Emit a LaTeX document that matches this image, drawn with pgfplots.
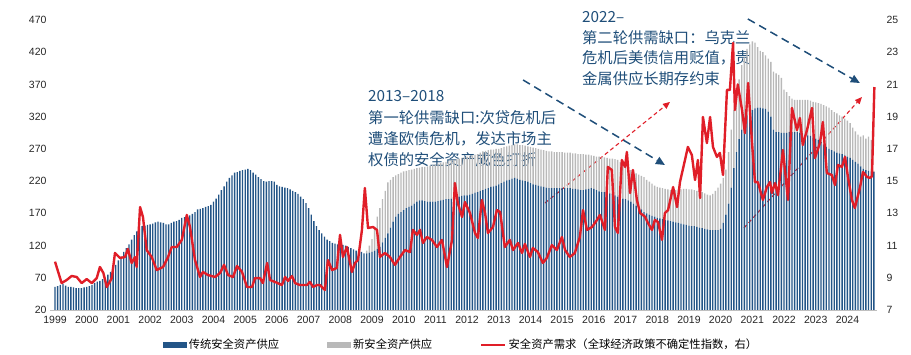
\documentclass[border=0pt]{standalone}
\usepackage{pgfplots}
\pgfplotsset{compat=1.18}
\usepackage{pgfplotstable}
\usepackage{fontspec}
\setmainfont{Liberation Sans}
\newfontfamily\cjk{Noto Sans CJK SC}
\usetikzlibrary{arrows.meta}
\definecolor{tradblue}{RGB}{35,85,135}
\definecolor{legblue}{RGB}{31,78,121}
\definecolor{newgrey}{RGB}{185,185,185}
\definecolor{demred}{RGB}{224,30,40}
\definecolor{annot}{RGB}{31,78,121}
\pgfplotsset{
  barlegend/.style={legend image code/.code={\fill[##1] (0pt,-3pt) rectangle (24pt,3pt);}},
  linelegend/.style={legend image code/.code={\draw[##1] (0pt,0pt) -- (24pt,0pt);}},
}
\pgfplotstableread[row sep=\\]{
i trad total\\
0 56 56\\ 1 57 57\\ 2 59 59\\ 3 60 60\\ 4 58 58\\ 5 56 56\\ 6 56 56\\ 7 55 55\\ 8 54 54\\ 9 54 54\\ 10 54 54\\ 11 55 55\\
12 56 56\\ 13 57 57\\ 14 59 59\\ 15 62 62\\ 16 64 64\\ 17 65 65\\ 18 68 68\\ 19 70 70\\ 20 75 75\\ 21 79 79\\ 22 85 85\\ 23 90 90\\
24 97 97\\ 25 103 103\\ 26 110 110\\ 27 116 116\\ 28 122 122\\ 29 129 129\\ 30 136 136\\ 31 142 142\\ 32 146 146\\ 33 150 150\\ 34 151 151\\ 35 152 152\\
36 153 153\\ 37 154 154\\ 38 156 156\\ 39 157 157\\ 40 156 156\\ 41 155 155\\ 42 153 153\\ 43 153 153\\ 44 155 155\\ 45 157 157\\ 46 158 158\\ 47 160 160\\
48 163 163\\ 49 164 164\\ 50 165 165\\ 51 167 167\\ 52 169 169\\ 53 172 172\\ 54 176 176\\ 55 177 177\\ 56 178 178\\ 57 180 180\\ 58 181 181\\ 59 183 183\\
60 188 188\\ 61 193 193\\ 62 199 199\\ 63 206 206\\ 64 212 212\\ 65 219 219\\ 66 225 225\\ 67 229 229\\ 68 233 233\\ 69 234 234\\ 70 236 236\\ 71 237 237\\
72 238 238\\ 73 239 239\\ 74 237 237\\ 75 233 233\\ 76 230 230\\ 77 226 226\\ 78 223 223\\ 79 220 220\\ 80 219 219\\ 81 220 220\\ 82 220 220\\ 83 219 219\\
84 214 214\\ 85 212 212\\ 86 211 211\\ 87 210 210\\ 88 209 209\\ 89 207 207\\ 90 205 205\\ 91 203 203\\ 92 200 200\\ 93 196 196\\ 94 192 192\\ 95 186 186\\
96 178 178\\ 97 168 168\\ 98 158 158\\ 99 150 150\\ 100 144 144\\ 101 139 139\\ 102 134 134\\ 103 129 129\\ 104 127 127\\ 105 124 124\\ 106 123 123\\ 107 122 122\\
108 122 122\\ 109 121 121\\ 110 120 120\\ 111 118 118\\ 112 116 116\\ 113 114 114\\ 114 112 112\\ 115 111 111\\ 116 110 110\\ 117 108 108\\ 118 108 112\\ 119 109 120\\
120 110 130\\ 121 112 148\\ 122 115 165\\ 123 118 178\\ 124 125 192\\ 125 132 205\\ 126 139 218\\ 127 148 222\\ 128 157 226\\ 129 165 229\\ 130 169 231\\ 131 172 233\\
132 175 235\\ 133 178 236\\ 134 180 237\\ 135 182 238\\ 136 185 239\\ 137 188 240\\ 138 190 241\\ 139 190 242\\ 140 189 242\\ 141 188 243\\ 142 188 244\\ 143 188 245\\
144 188 246\\ 145 189 247\\ 146 190 248\\ 147 191 249\\ 148 192 250\\ 149 192 251\\ 150 193 252\\ 151 194 253\\ 152 195 254\\ 153 196 255\\ 154 197 256\\ 155 198 257\\
156 198 258\\ 157 199 259\\ 158 200 260\\ 159 202 261\\ 160 203 262\\ 161 205 264\\ 162 206 266\\ 163 208 267\\ 164 209 268\\ 165 211 269\\ 166 212 269\\ 167 213 270\\
168 215 270\\ 169 217 271\\ 170 219 273\\ 171 221 274\\ 172 222 275\\ 173 224 276\\ 174 225 277\\ 175 224 277\\ 176 222 276\\ 177 221 276\\ 178 220 275\\ 179 219 274\\
180 217 273\\ 181 215 272\\ 182 214 271\\ 183 213 270\\ 184 212 269\\ 185 211 268\\ 186 210 267\\ 187 209 266\\ 188 209 266\\ 189 209 265\\ 190 209 265\\ 191 209 265\\
192 209 265\\ 193 209 264\\ 194 209 264\\ 195 209 264\\ 196 208 263\\ 197 208 263\\ 198 207 262\\ 199 206 262\\ 200 206 262\\ 201 207 261\\ 202 208 261\\ 203 209 260\\
204 208 259\\ 205 206 258\\ 206 204 258\\ 207 203 257\\ 208 203 257\\ 209 202 256\\ 210 201 255\\ 211 200 255\\ 212 198 254\\ 213 196 253\\ 214 194 250\\ 215 193 247\\
216 192 243\\ 217 190 240\\ 218 188 237\\ 219 185 234\\ 220 182 232\\ 221 179 230\\ 222 176 228\\ 223 172 226\\ 224 170 222\\ 225 168 219\\ 226 166 216\\ 227 165 213\\
228 163 211\\ 229 162 210\\ 230 161 209\\ 231 160 208\\ 232 159 207\\ 233 158 206\\ 234 157 206\\ 235 156 206\\ 236 155 207\\ 237 154 207\\ 238 153 208\\ 239 152 208\\
240 151 207\\ 241 150 207\\ 242 150 206\\ 243 149 205\\ 244 148 204\\ 245 147 203\\ 246 146 201\\ 247 145 199\\ 248 144 198\\ 249 144 200\\ 250 144 205\\ 251 144 210\\
252 146 216\\ 253 155 225\\ 254 168 238\\ 255 185 265\\ 256 210 300\\ 257 240 330\\ 258 265 355\\ 259 285 378\\ 260 300 400\\ 261 312 412\\ 262 322 425\\ 263 327 432\\
264 330 437\\ 265 333 435\\ 266 334 428\\ 267 334 422\\ 268 333 420\\ 269 332 415\\ 270 328 410\\ 271 320 405\\ 272 300 390\\ 273 296 387\\ 274 296 385\\ 275 295 380\\
276 295 362\\ 277 295 358\\ 278 296 352\\ 279 296 348\\ 280 296 346\\ 281 296 346\\ 282 295 346\\ 283 294 346\\ 284 292 346\\ 285 291 346\\ 286 290 345\\ 287 288 343\\
288 286 342\\ 289 284 341\\ 290 281 340\\ 291 277 338\\ 292 273 336\\ 293 270 334\\ 294 268 330\\ 295 266 327\\ 296 264 325\\ 297 263 322\\ 298 262 320\\ 299 260 317\\
300 258 314\\ 301 256 310\\ 302 253 303\\ 303 250 297\\ 304 247 292\\ 305 243 289\\ 306 239 291\\ 307 237 286\\ 308 236 289\\ 309 235 284\\ 310 234 236\\
}\supply
\begin{document}
\begin{tikzpicture}
\path[use as bounding box] (0,0) rectangle (911pt,355pt);
\begin{axis}[
  at={(50pt,45pt)}, anchor=south west, scale only axis,
  width=827pt, height=290pt,
  xmin=-1.9, xmax=311.2, ymin=20, ymax=470,
  ytick={20,70,...,470},
  xtick={0,12,...,300},
  xticklabels={1999,2000,2001,2002,2003,2004,2005,2006,2007,2008,2009,2010,2011,2012,2013,2014,2015,2016,2017,2018,2019,2020,2021,2022,2023,2024},
  axis x line*=bottom, axis y line*=left,
  x axis line style={draw=black!25, line width=0.6pt},
  y axis line style={draw=none},
  major tick length=0pt,
  /pgf/number format/assume math mode=true,
  tick label style={font=\fontsize{10.5}{12}\selectfont, text=black!85},
  xticklabel style={yshift=-3pt},
  yticklabel style={/pgf/number format/1000 sep={}},
  clip mode=individual,
  ybar stacked, bar width=0.52,
  legend columns=3,
  legend cell align=left,
  legend style={font=\cjk\fontsize{11.3}{13}\selectfont, draw=none, fill=none,
    at={(0.497,-0.12)}, anchor=center, inner sep=0pt,
    /tikz/every even column/.append style={column sep=46pt}},
]
\addplot[fill=tradblue, draw=none, barlegend] table[x=i, y=trad]{\supply};
\addplot[fill=newgrey, draw=none, barlegend] table[x=i, y expr=\thisrow{total}-\thisrow{trad}]{\supply};
\addlegendimage{demred, line width=2.4pt, linelegend}
\legend{传统安全资产供应, 新安全资产供应, 安全资产需求（全球经济政策不确定性指数，右）}

\draw[annot, line width=1.5pt, dash pattern=on 8pt off 5pt, -{Triangle[length=9pt,width=8pt]}]
  (axis cs:177.2,376.9) -- (axis cs:230.9,245);
\draw[annot, line width=1.5pt, dash pattern=on 8pt off 5pt, -{Triangle[length=9pt,width=8pt]}]
  (axis cs:262.3,471.6) -- (axis cs:304.7,372.2);
\draw[demred, line width=1.1pt, dash pattern=on 4pt off 3pt, -{Triangle[length=7pt,width=6pt]}]
  (axis cs:185.5,186.0) -- (axis cs:232.8,342.8);
\draw[demred, line width=1.1pt, dash pattern=on 4pt off 3pt, -{Triangle[length=7pt,width=6pt]}]
  (axis cs:260.8,147.2) -- (axis cs:305.5,350.5);

\node[anchor=north west, inner sep=0pt, align=left, text=annot,
  font=\cjk\fontsize{15.3}{21.3}\selectfont] at (axis cs:118.5,360.6)
  {2013–2018\\第一轮供需缺口:次贷危机后\\遭逢欧债危机，发达市场主\\权债的安全资产成色打折};
\node[anchor=north west, inner sep=0pt, align=left, text=annot,
  font=\cjk\fontsize{15.3}{20.8}\selectfont] at (axis cs:199.5,484)
  {2022–\\第二轮供需缺口：乌克兰\\危机后美债信用贬值，贵\\金属供应长期存约束};
\end{axis}

\begin{axis}[
  at={(50pt,45pt)}, anchor=south west, scale only axis,
  width=827pt, height=290pt,
  xmin=-1.9, xmax=311.2, ymin=7, ymax=25,
  ytick={7,9,...,25},
  axis y line*=right, axis x line=none,
  y axis line style={draw=none},
  major tick length=0pt,
  /pgf/number format/assume math mode=true,
  tick label style={font=\fontsize{10.5}{12}\selectfont, text=black!85},
  yticklabel style={anchor=west, xshift=6pt},
]
\addplot[demred, line width=2.4pt, line join=round, mark=none] coordinates {
(0,10.0) (2.5,8.67) (4.4,8.86) (6.3,9.11) (8.2,9.05) (10.1,8.67) (12.0,8.92) (13.9,8.67) (15.8,8.98) (17.0,9.67) (18.3,9.3) (19.6,8.43) (21.5,8.98) (22.7,10.54) (24.6,10.23) (26.5,10.29) (27.6,10.79) (29.0,9.92) (30.3,10.29) (30.9,9.67) (32.2,13.39) (33.3,12.77) (34.7,10.72) (36.6,10.29) (38.5,9.48) (40.9,9.67) (42.8,10.29) (44.2,10.91) (46.1,10.91) (48.0,11.35) (49.9,12.9) (51.1,12.15) (53.0,10.1) (54.9,9.05) (56.0,9.36) (57.9,9.17) (60.6,9.05) (62.5,9.3) (64.0,9.8) (65.5,9.17) (67.4,9.05) (68.9,9.73) (70.8,9.36) (72.7,8.43) (74.6,8.43) (75.7,8.98) (77.6,8.98) (78.7,8.67) (80.3,9.92) (81.4,8.86) (83.3,8.74) (85.9,8.55) (87.1,9.05) (88.2,8.8) (89.7,9.11) (90.9,8.67) (92.7,8.55) (95.4,8.55) (96.5,8.74) (97.7,8.43) (99.2,8.55) (100.3,8.55) (102.2,8.24) (103.3,10.1) (104.9,9.48) (106.7,9.61) (107.9,11.66) (109.0,10.29) (110.5,10.91) (112.4,9.36) (113.6,9.92) (114.7,10.1) (116.2,11.97) (117.3,14.57) (118.5,12.09) (120.4,12.15) (121.9,11.97) (123.0,10.29) (124.9,10.54) (126.8,10.29) (128.7,9.8) (130.6,10.29) (132.5,10.72) (134.4,10.6) (135.5,11.97) (137.0,11.66) (138.2,11.97) (139.3,11.16) (140.8,11.53) (142.7,11.35) (144.6,10.91) (146.5,11.35) (148.4,9.67) (150.3,11.35) (151.4,14.88) (152.5,13.64) (154.1,12.77) (155.2,13.7) (157.1,13.02) (159.0,11.78) (160.1,11.47) (161.6,13.83) (162.8,13.02) (163.9,11.78) (165.8,12.15) (167.3,13.2) (168.5,13.08) (170.3,10.91) (172.2,11.35) (173.4,10.72) (175.3,11.16) (176.8,10.54) (177.9,11.1) (179.8,10.29) (180.9,10.85) (182.8,10.6) (184.7,9.92) (186.2,10.23) (188.1,11.03) (190.0,10.72) (191.9,11.53) (193.1,10.72) (194.9,10.29) (196.8,10.54) (198.7,11.53) (199.9,13.2) (201.4,11.97) (203.3,12.15) (205.2,12.59) (206.3,12.9) (208.2,11.97) (209.3,15.88) (210.8,15.69) (212.0,12.15) (213.1,11.78) (214.6,16.31) (215.8,15.88) (216.5,16.81) (217.7,14.26) (218.8,15.69) (220.3,13.83) (221.5,13.02) (223.3,12.8) (224.5,12.4) (226.0,11.97) (227.1,12.59) (228.3,12.46) (229.8,11.35) (230.9,13.02) (232.1,13.2) (234.0,14.63) (235.5,13.39) (236.6,14.94) (238.5,16.31) (239.6,17.12) (241.1,16.62) (242.3,15.07) (243.4,16.31) (244.2,13.95) (245.3,18.98) (246.8,17.36) (248.0,18.98) (249.1,17.12) (250.6,16.5) (251.7,16.75) (252.9,15.38) (254.4,20.66) (255.5,20.66) (256.7,23.57) (257.4,19.41) (258.5,21.0) (260.1,19.41) (261.2,17.98) (262.4,21.09) (263.8,17.55) (265.0,14.94) (266.1,14.94) (268.0,13.83) (269.5,14.63) (270.7,14.94) (271.4,14.26) (272.6,14.88) (273.7,14.13) (275.6,16.93) (277.5,13.83) (279.0,19.54) (280.9,18.17) (282.0,18.92) (283.1,17.24) (284.7,18.17) (286.6,19.54) (287.7,16.43) (289.6,17.36) (290.7,18.67) (292.2,15.5) (294.1,15.38) (295.3,14.76) (296.4,16.0) (297.9,15.88) (299.1,16.5) (300.2,15.26) (301.7,13.83) (302.8,13.33) (304.7,14.57) (305.9,15.57) (307.4,15.26) (308.5,15.2) (309.3,15.3) (310.2,20.84)
};
\end{axis}
\end{tikzpicture}
\end{document}
